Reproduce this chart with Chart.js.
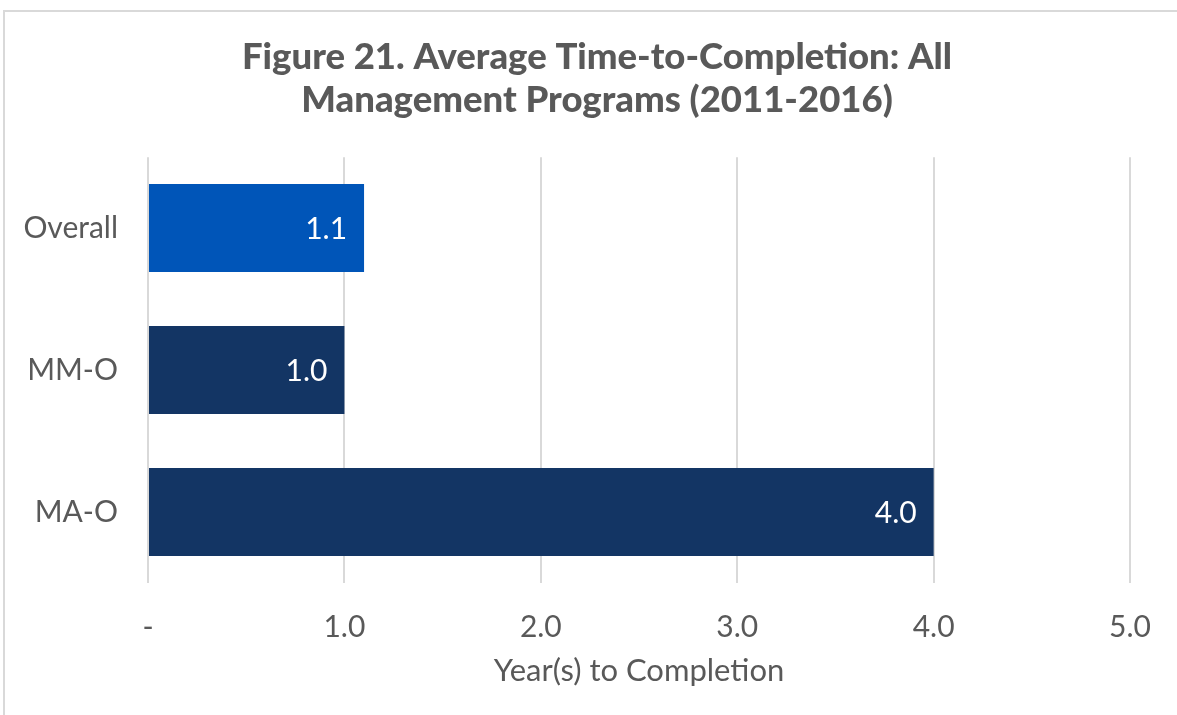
<!DOCTYPE html>
<html>
<head>
<meta charset="utf-8">
<script src="https://cdn.jsdelivr.net/npm/chart.js@4"></script>
<style>
  html, body { margin: 0; padding: 0; background: #ffffff; overflow: hidden; }
  canvas { display: block; }
</style>
</head>
<body>
<canvas id="c" width="1177" height="715"></canvas>
<script>
const categories = ['Overall', 'MM-O', 'MA-O'];
const values = [1.1, 1.0, 4.0];
const barColors = ['#0055B8', '#133564', '#133564'];
const tickLabels = ['-', '1.0', '2.0', '3.0', '4.0', '5.0'];
const titleLines = ['Figure 21. Average Time-to-Completion: All', 'Management Programs (2011-2016)'];
const axisTitle = 'Year(s) to Completion';

const FONT = 'Lato, "Open Sans", sans-serif';
const GRAY = '#595959';

const frame = {
  id: 'frame',
  afterLayout(chart) {
    if (chart.titleBlock) { chart.titleBlock.left = 62; }
  },
  beforeDraw(chart) {
    const ctx = chart.ctx;
    ctx.save();
    ctx.strokeStyle = '#d9d9d9';
    ctx.lineWidth = 2;
    ctx.strokeRect(4, 11, 1300, 800);
    ctx.restore();
  }
};

const valueLabels = {
  id: 'valueLabels',
  afterDatasetsDraw(chart) {
    const ctx = chart.ctx;
    const meta = chart.getDatasetMeta(0);
    ctx.save();
    ctx.fillStyle = '#ffffff';
    ctx.font = '30px ' + FONT;
    ctx.textAlign = 'right';
    ctx.textBaseline = 'middle';
    meta.data.forEach((bar, i) => {
      ctx.fillText(values[i].toFixed(1), bar.x - 17, bar.y + 1);
    });
    ctx.restore();
  }
};

new Chart(document.getElementById('c'), {
  type: 'bar',
  data: {
    labels: categories,
    datasets: [{
      data: values,
      backgroundColor: barColors,
      borderWidth: 0,
      categoryPercentage: 0.62,
      barPercentage: 1.0
    }]
  },
  options: {
    indexAxis: 'y',
    responsive: false,
    animation: false,
    layout: { padding: { left: 0, right: 45, top: 0, bottom: 25.4 } },
    plugins: {
      legend: { display: false },
      tooltip: { enabled: false },
      title: {
        display: true,
        text: titleLines,
        color: GRAY,
        font: { family: FONT, size: 36.5, weight: '900', lineHeight: 1.18 },
        padding: { top: 35.5, bottom: 35.5 }
      }
    },
    scales: {
      x: {
        min: 0,
        max: 5,
        ticks: {
          stepSize: 1,
          color: GRAY,
          font: { family: FONT, size: 30 },
          padding: 26,
          callback: (v, i) => tickLabels[i]
        },
        grid: { color: '#d9d9d9', lineWidth: 2, drawTicks: false },
        border: { display: false },
        title: {
          display: true,
          text: axisTitle,
          color: GRAY,
          font: { family: FONT, size: 31 },
          padding: { top: -18.6, bottom: 0 }
        }
      },
      y: {
        ticks: {
          color: GRAY,
          font: { family: FONT, size: 30 },
          padding: 30
        },
        grid: { display: false, drawTicks: false },
        border: { display: false },
        afterFit(scale) { scale.width = 148; }
      }
    }
  },
  plugins: [frame, valueLabels]
});
</script>
</body>
</html>
